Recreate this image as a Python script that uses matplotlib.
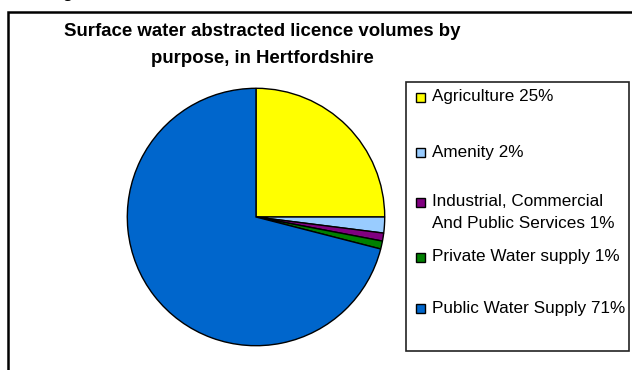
import matplotlib
matplotlib.use("Agg")
import matplotlib.pyplot as plt
from matplotlib.patches import Rectangle

# Licence volume shares by purpose (percent)
categories = [
    "Agriculture",
    "Amenity",
    "Industrial, Commercial\nAnd Public Services",
    "Private Water supply",
    "Public Water Supply",
]
shares = [25, 2, 1, 1, 71]
colors = ["#FFFF00", "#99CCFF", "#800080", "#008000", "#0066CC"]
title = "Surface water abstracted licence volumes by\npurpose, in Hertfordshire"

W, H = 632, 370
fig = plt.figure(figsize=(W / 100, H / 100), dpi=100)
plt.rcParams["font.family"] = ["Liberation Sans", "DejaVu Sans"]


def fx(px):
    return px / W


def fy(py):
    return 1 - py / H


# Heading fragment above the chart frame
fig.text(fx(62), fy(-2), "g", fontsize=12, fontweight="bold", va="baseline", ha="left")

# Outer chart frame (runs past the right and bottom edges)
fig.patches.append(Rectangle((fx(8), fy(H + 20)), 1.2, fy(12) - fy(H + 20),
                             transform=fig.transFigure, fill=False,
                             edgecolor="black", linewidth=1.8))

# Title
fig.text(fx(262), fy(45), title, ha="center", va="center", fontsize=13.4,
         fontweight="bold", linespacing=1.75)

# Pie
cx, cy, r = 256, 217, 130
ax = fig.add_axes([fx(cx - r), fy(cy + r), (2 * r) / W, (2 * r) / H])
ax.pie(shares, colors=colors, startangle=90, counterclock=False,
       wedgeprops=dict(edgecolor="black", linewidth=1.0))
ax.set_xlim(-1.01, 1.01)
ax.set_ylim(-1.01, 1.01)
ax.set_aspect("equal")
ax.axis("off")

# Legend
fig.patches.append(Rectangle((fx(406), fy(351)), fx(629) - fx(406), fy(82) - fy(351),
                             transform=fig.transFigure, fill=False,
                             edgecolor="#222222", linewidth=1.2))
legend_y = [97, 152, 202, 257, 308]
line_gap = 21
sq = 9
for cat, val, col, y in zip(categories, shares, colors, legend_y):
    fig.patches.append(Rectangle((fx(416), fy(y + sq / 2)), sq / W, sq / H,
                                 transform=fig.transFigure, facecolor=col,
                                 edgecolor="black", linewidth=1.0))
    label = f"{cat} {val}%"
    n_lines = label.count("\n") + 1
    fig.text(fx(432), fy(y + (n_lines - 1) * line_gap / 2), label, ha="left",
             va="center", fontsize=12.3, linespacing=1.6)

fig.savefig("out.png", dpi=100)
